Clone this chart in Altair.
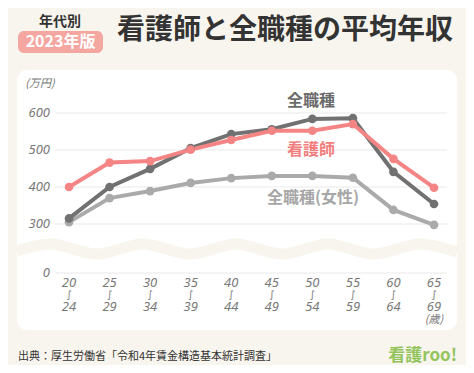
import altair as alt
import pandas as pd

# ---- data ----
age_from = ["20", "25", "30", "35", "40", "45", "50", "55", "60", "65"]
age_to = ["24", "29", "34", "39", "44", "49", "54", "59", "64", "69"]
nurse = [400, 466, 470, 501, 527, 552, 552, 570, 476, 398]
all_jobs = [315, 400, 449, 505, 543, 556, 584, 586, 441, 354]
all_women = [305, 370, 389, 411, 424, 430, 430, 425, 338, 295]
y_ticks = [0, 300, 400, 500, 600]
series_names = ["全職種(女性)", "全職種", "看護師"]
series_colors = ["#aaaaaa", "#717171", "#f58585"]

BG = "#f8f5ee"
FONT = "Noto Sans CJK JP"
NUMFONT = "Noto Sans, DejaVu Sans"

rows = []
for name, vals in zip(series_names, [all_women, all_jobs, nurse]):
    for i, v in enumerate(vals):
        rows.append({"age": age_from[i], "value": v, "series": name, "order": i})
df = pd.DataFrame(rows)

xlab = pd.DataFrame({"age": age_from, "lo": age_from, "hi": age_to, "sq": ["∫"] * len(age_from)})
ticks = pd.DataFrame({"v": y_ticks})

x_scale = alt.Scale(type="point", domain=age_from, range=[61, 426], padding=0)
y_scale = alt.Scale(domain=[0, 300, 600], range=[265, 216, 105])
c_scale = alt.Scale(domain=series_names, range=series_colors)

one = alt.Data(values=[{"a": 1}])

panel = alt.Chart(one).mark_rect(fill="white", cornerRadius=10).encode(
    x=alt.value(9), x2=alt.value(449), y=alt.value(62), y2=alt.value(322))

wave_pts = [(9, 243), (42, 236), (89, 246), (135, 236), (182, 246), (228, 236),
            (274, 246), (320, 236), (366, 246), (412, 236), (449, 244)]
wave = alt.Chart(alt.Data(values=[{"wx": a, "wy": b} for a, b in wave_pts])).mark_line(
    stroke=BG, strokeWidth=11, interpolate="monotone").encode(
    x=alt.X("wx:Q", scale=None), y=alt.Y("wy:Q", scale=None))

grid = alt.Chart(ticks).mark_rule(color="#e9e9e9", strokeWidth=1).encode(
    y=alt.Y("v:Q", scale=y_scale, axis=None), x=alt.value(47), x2=alt.value(439))

ylabels = alt.Chart(ticks).mark_text(
    align="right", baseline="middle", font=NUMFONT, fontStyle="italic",
    fontSize=13, color="#7a7a7a").encode(
    y=alt.Y("v:Q", scale=y_scale, axis=None), x=alt.value(42), text="v:Q")

lines = alt.Chart(df).mark_line(strokeWidth=4).encode(
    x=alt.X("age:N", scale=x_scale, axis=None),
    y=alt.Y("value:Q", scale=y_scale, axis=None),
    color=alt.Color("series:N", scale=c_scale, legend=None),
    order="order:Q")

points = alt.Chart(df).mark_circle(size=75, opacity=1).encode(
    x=alt.X("age:N", scale=x_scale, axis=None),
    y=alt.Y("value:Q", scale=y_scale, axis=None),
    color=alt.Color("series:N", scale=c_scale, legend=None))


def xl(field, y, size, font=NUMFONT, style="italic"):
    return alt.Chart(xlab).mark_text(
        align="center", baseline="middle", font=font, fontStyle=style,
        fontSize=size, color="#7a7a7a").encode(
        x=alt.X("age:N", scale=x_scale, axis=None), y=alt.value(y), text=f"{field}:N")


def txt(s, x, y, size, color, weight="normal", align="center", style="normal", font=FONT):
    return alt.Chart(one).mark_text(
        text=s, align=align, baseline="middle", fontSize=size, color=color,
        fontWeight=weight, fontStyle=style, font=font).encode(
        x=alt.value(x), y=alt.value(y))


badge = alt.Chart(one).mark_rect(fill="#f4a7a1", cornerRadius=6).encode(
    x=alt.value(10), x2=alt.value(95), y=alt.value(23), y2=alt.value(45))

layers = [
    panel, wave, grid, ylabels, lines, points,
    xl("lo", 274.5, 13), xl("sq", 286.5, 10, font="DejaVu Sans", style="normal"), xl("hi", 298.5, 13),
    badge,
    txt("年代別", 52, 14, 14, "#333333", "bold"),
    txt("2023年版", 52.5, 34, 16, "white", "bold"),
    txt("看護師と全職種の平均年収", 277, 23, 28, "#333333", "bold"),
    txt("(万円)", 32, 76, 11, "#777777", style="italic"),
    txt("(歳)", 426, 312, 11, "#777777", style="italic"),
    txt("全職種", 303, 93, 16, "#6b6b6b", "bold"),
    txt("看護師", 303, 142, 16, "#f27d7d", "bold"),
    txt("全職種(女性)", 305, 190, 16, "#a6a6a6", "bold"),
    txt("出典：厚生労働省「令和4年賃金構造基本統計調査」", 10, 349, 11, "#333333", align="left"),
    txt("看護roo!", 449, 348, 17, "#93c45c", "bold", align="right"),
]

chart = alt.layer(*layers).properties(
    width=458, height=357, autosize="none", padding=0, background=BG
).configure_view(stroke=None)

chart.save("out.html", embed_options={"renderer": "svg", "actions": False})
